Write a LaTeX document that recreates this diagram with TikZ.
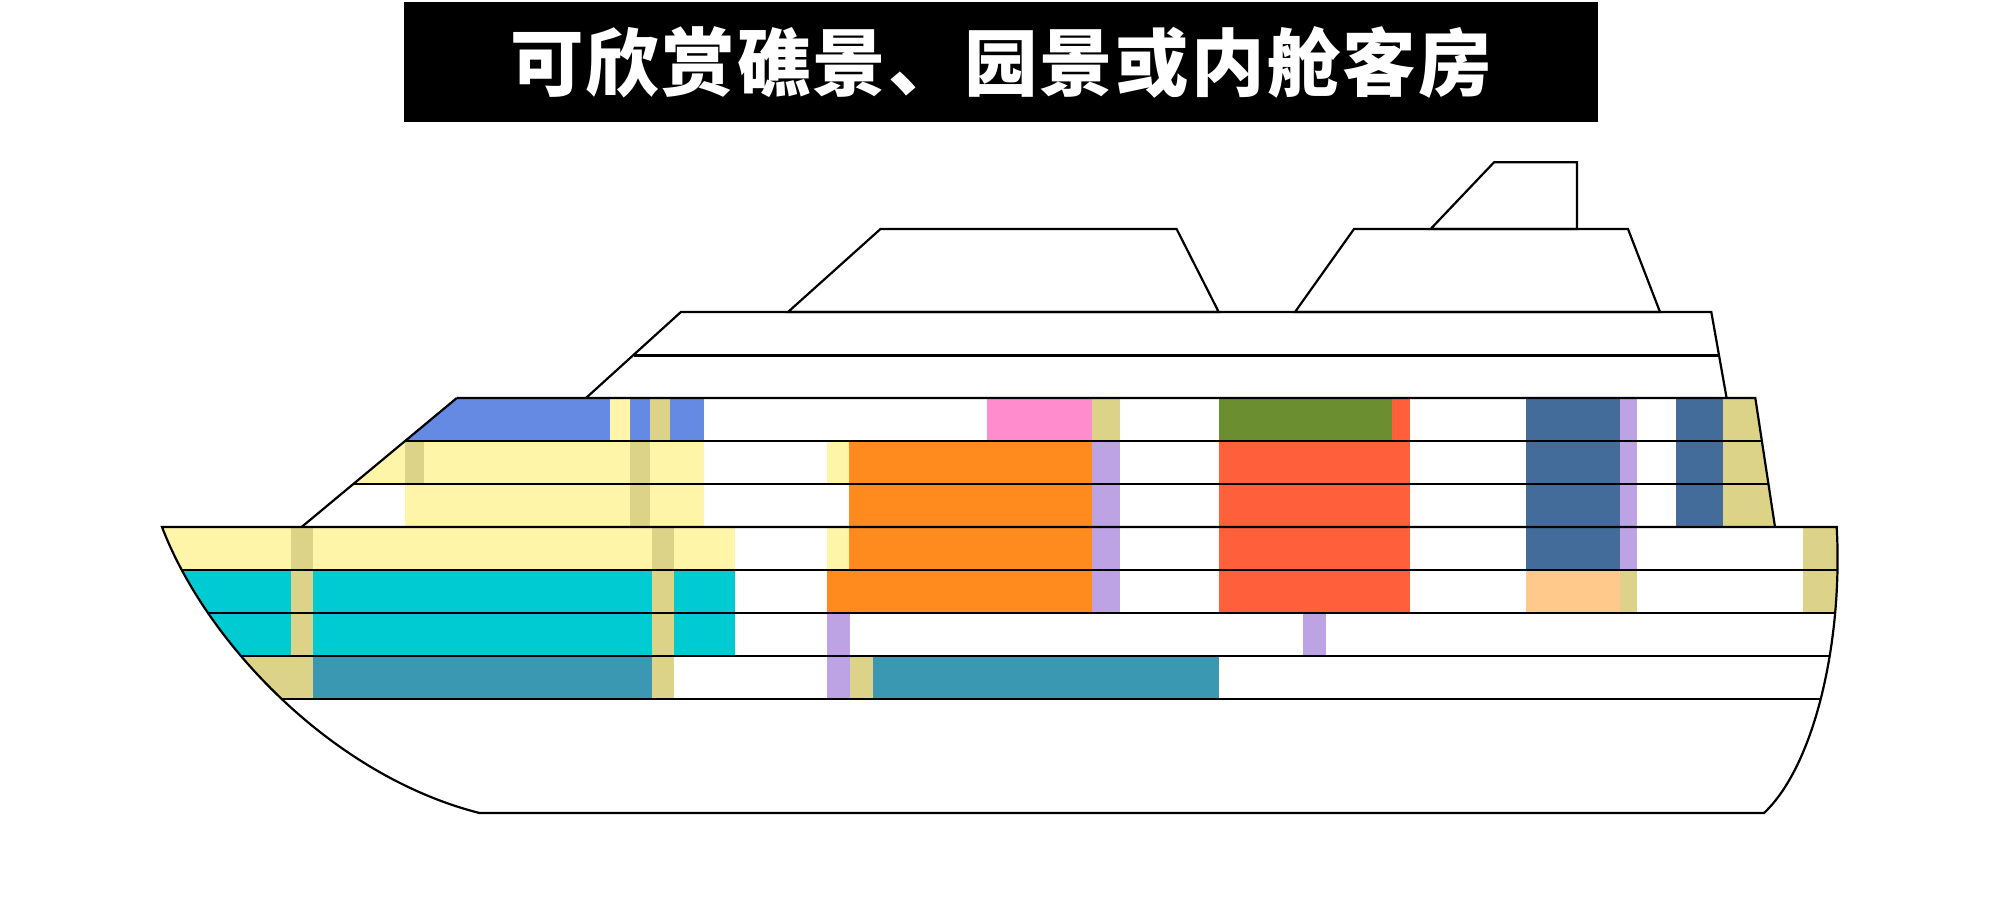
\documentclass[tikz,border=0pt]{standalone}
\usepackage{fontspec}
\newfontfamily\cjk[LetterSpace=3]{Noto Sans CJK SC}
\definecolor{cblue}{HTML}{648AE3}
\definecolor{cyellow}{HTML}{FFF5A8}
\definecolor{ckhaki}{HTML}{DDD388}
\definecolor{ccyan}{HTML}{00CAD2}
\definecolor{cteal}{HTML}{3B98B2}
\definecolor{cpink}{HTML}{FF8CCC}
\definecolor{corange}{HTML}{FF8A1E}
\definecolor{cred}{HTML}{FF5F3A}
\definecolor{cgreen}{HTML}{6B8E30}
\definecolor{cnavy}{HTML}{436C9A}
\definecolor{cpurple}{HTML}{BEA3E4}
\definecolor{cpeach}{HTML}{FFC98C}
\begin{document}
\begin{tikzpicture}[x=1pt,y=-1pt]

\tikzstyle{titlebar} = [
	fill=black, text=white, inner sep=0pt,
	minimum width=1194pt, minimum height=120pt,
	font=\cjk\bfseries\fontsize{73.5}{78}\selectfont ];
\tikzstyle{outline} = [draw=black, line width=2.2pt, line join=miter];
\tikzstyle{deck} = [draw=black, line width=2.6pt];

\useasboundingbox (0,0) rectangle (2000,919);

\node[titlebar] (title) at (1001,62) {可欣赏礁景、园景或内舱客房};

% funnels and upper decks
\draw[outline] (586,398) -- (680.9,312) -- (1711.3,312) -- (1726.6,398);
\draw[outline] (1430.6,229) -- (1494,162.3) -- (1577,162.3) -- (1577,229) -- cycle;
\draw[outline] (788,312) -- (880.5,229) -- (1176.6,229) -- (1218.7,312) -- cycle;
\draw[outline] (1295,312) -- (1354,229) -- (1628,229) -- (1660,312) -- cycle;
\draw[deck] (633.5,355.7) -- (1719,355.7);

% rooms, cut off by the outline of the ship
\begin{scope}
\clip (456.8,398) -- (1755.3,398) -- (1775,527) -- (301.6,527) -- cycle
	(162,527) -- (1836.7,527) .. controls (1843,640) and (1815,765) .. (1764,813)
	-- (479.5,813) .. controls (330,775) and (205,640) .. (162,527) -- cycle;

% front
\fill[cblue] (400,398) rectangle (703.5,441);
\fill[cyellow] (609.6,398) rectangle (630,441);
\fill[ckhaki] (649.6,398) rectangle (670,441);
\fill[cyellow] (340,441) rectangle (703.5,484);
\fill[cyellow] (405.2,484) rectangle (703.5,527);
\fill[ckhaki] (405.2,441) rectangle (424.4,484);
\fill[ckhaki] (630,441) rectangle (649.6,527);
\fill[cyellow] (150,527) rectangle (734.7,570);
\fill[ccyan] (150,570) rectangle (734.7,656);
\fill[ckhaki] (150,656) rectangle (313,699);
\fill[cteal] (313,656) rectangle (651.6,699);
\fill[ckhaki] (291,527) rectangle (313,656);
\fill[ckhaki] (651.6,527) rectangle (674,699);

% middle
\fill[cpink] (987.3,398) rectangle (1091.7,441);
\fill[ckhaki] (1091.7,398) rectangle (1120,441);
\fill[cyellow] (826.5,441) rectangle (849,484);
\fill[cyellow] (826.5,527) rectangle (849,570);
\fill[corange] (849,441) rectangle (1091.7,613);
\fill[corange] (826.5,570) rectangle (849,613);
\fill[cpurple] (1091.7,441) rectangle (1120,613);
\fill[cpurple] (826.5,613) rectangle (850,699);
\fill[ckhaki] (850,656) rectangle (873,699);
\fill[cteal] (873,656) rectangle (1219,699);
\fill[cpurple] (1302.6,613) rectangle (1326.3,656);
\fill[cgreen] (1219.4,398) rectangle (1392.4,441);
\fill[cred] (1392.4,398) rectangle (1409.5,441);
\fill[cred] (1219.4,441) rectangle (1409.5,613);

% back
\fill[cnavy] (1526,398) rectangle (1620,570);
\fill[cpurple] (1620,398) rectangle (1637,570);
\fill[cpeach] (1526,570) rectangle (1620,613);
\fill[ckhaki] (1620,570) rectangle (1637,613);
\fill[cnavy] (1676,398) rectangle (1723,527);
\fill[ckhaki] (1723,398) rectangle (1780,527);
\fill[ckhaki] (1803,527) rectangle (1845,613);

\foreach \y in {441,484,527,570,613,656,699}
	\draw[deck] (100,\y) -- (1900,\y);
\end{scope}

% hull and lower structure
\draw[outline] (456.8,398) -- (1755.3,398) -- (1775,527);
\draw[outline] (301.6,527) -- (456.8,398);
\draw[outline] (162,527) -- (1836.7,527) .. controls (1843,640) and (1815,765) .. (1764,813)
	-- (479.5,813) .. controls (330,775) and (205,640) .. (162,527) -- cycle;

\end{tikzpicture}
\end{document}
